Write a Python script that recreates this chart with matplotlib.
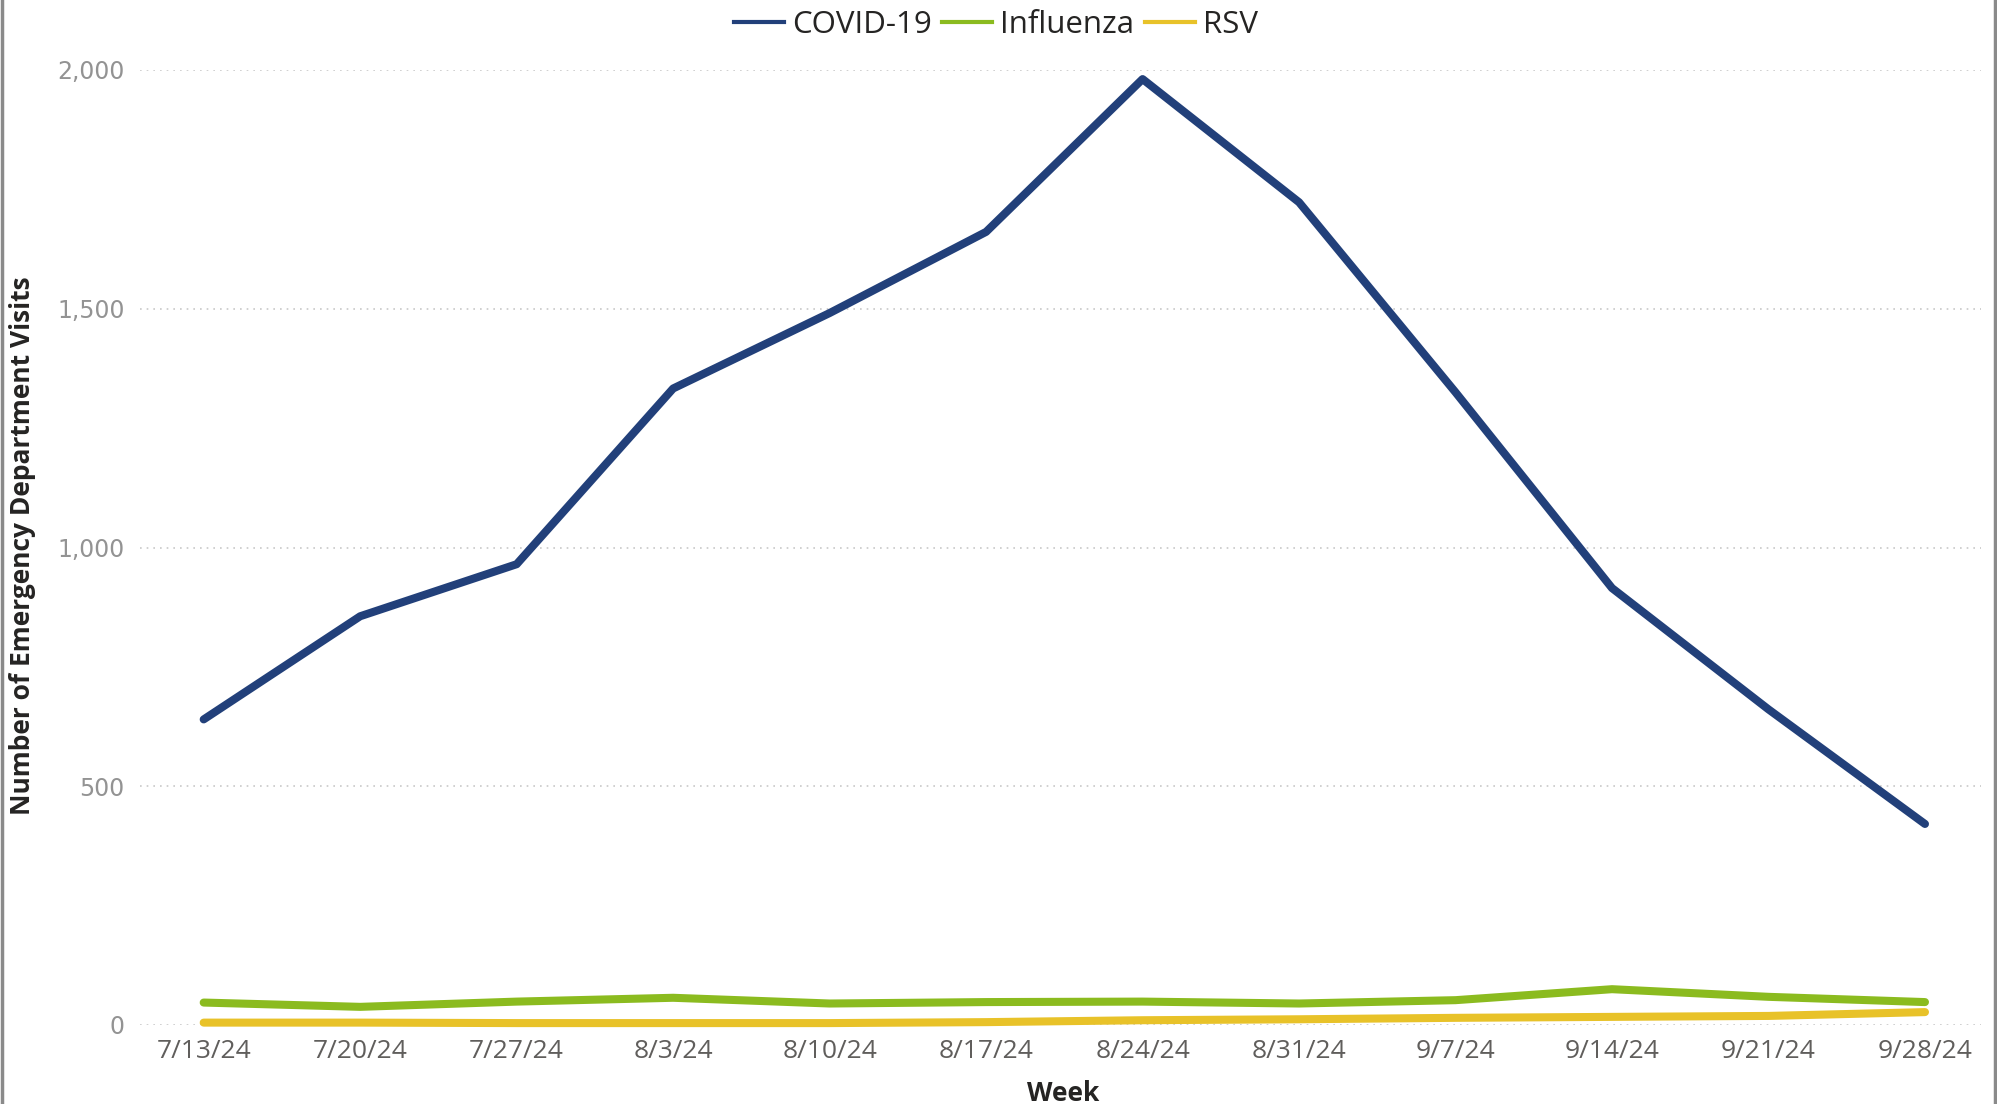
import matplotlib
matplotlib.use("Agg")
import matplotlib.pyplot as plt
from matplotlib.lines import Line2D
import numpy as np

weeks = ["7/13/24", "7/20/24", "7/27/24", "8/3/24", "8/10/24", "8/17/24",
         "8/24/24", "8/31/24", "9/7/24", "9/14/24", "9/21/24", "9/28/24"]
covid = [640, 856, 965, 1333, 1491, 1661, 1981, 1723, 1325, 915, 661, 421]
influenza = [47, 38, 49, 57, 45, 48, 49, 45, 52, 75, 59, 48]
rsv = [5, 5, 4, 4, 4, 6, 10, 12, 15, 17, 19, 27]
yticks = [0, 500, 1000, 1500, 2000]
ytick_labels = ["0", "500", "1,000", "1,500", "2,000"]

FONT = ["Open Sans", "DejaVu Sans"]
W, H = 1997, 1104

fig = plt.figure(figsize=(W / 100, H / 100), dpi=100)
ax = fig.add_axes([140 / W, 1 - 1025 / H, (1981 - 140) / W, (1025 - 70) / H])

x = np.arange(len(weeks))
series = [("COVID-19", covid, "#22407a"),
          ("Influenza", influenza, "#8bbb1f"),
          ("RSV", rsv, "#e8c229")]
for name, vals, col in series[::-1]:
    ax.plot(x, vals, color=col, lw=5.8, solid_capstyle="round",
            solid_joinstyle="round", clip_on=False, label=name, zorder=3)

ax.set_xlim(-0.407, len(weeks) - 1 + 0.358)
ax.set_ylim(0, 2000)
ax.set_yticks(yticks)
ax.set_yticklabels(ytick_labels, family="DejaVu Sans", fontsize=17, color="#939393")
ax.set_xticks(x)
ax.set_xticklabels(weeks, family=FONT, fontsize=19, color="#605e5c")
ax.tick_params(axis="both", length=0)
ax.tick_params(axis="y", pad=11)
ax.tick_params(axis="x", pad=10)
ax.grid(axis="y", color="#c8c8c8", linestyle=(0, (1, 3)), lw=1.2)
ax.set_axisbelow(True)
for s in ax.spines.values():
    s.set_visible(False)

fig.text(23 / W, 1 - 546 / H, "Number of Emergency Department Visits", family=FONT,
         fontweight="bold", fontsize=19, color="#252423", rotation=90,
         ha="center", va="center")
fig.text(1063 / W, 1 - 1101 / H, "Week", family=FONT, fontweight="bold",
         fontsize=19, color="#252423", ha="center", va="baseline")

handles = [Line2D([0], [0], color=c, lw=3) for _, _, c in series]
leg = fig.legend(handles, [n for n, _, _ in series], loc="center",
                 bbox_to_anchor=(996 / W, 1 - 25 / H), ncol=3, frameon=False,
                 prop={"family": "Open Sans", "size": 22.5}, handlelength=1.6,
                 handletextpad=0.25, columnspacing=0.35, labelcolor="#252423")

# outer gray borders
fig.add_artist(Line2D([1.5 / W, 1.5 / W], [0, 1], color="#8a8a8a", lw=2.5,
                      transform=fig.transFigure))
fig.add_artist(Line2D([1994.5 / W, 1994.5 / W], [0, 1], color="#8a8a8a", lw=2.5,
                      transform=fig.transFigure))

fig.savefig("out.png", dpi=100)
